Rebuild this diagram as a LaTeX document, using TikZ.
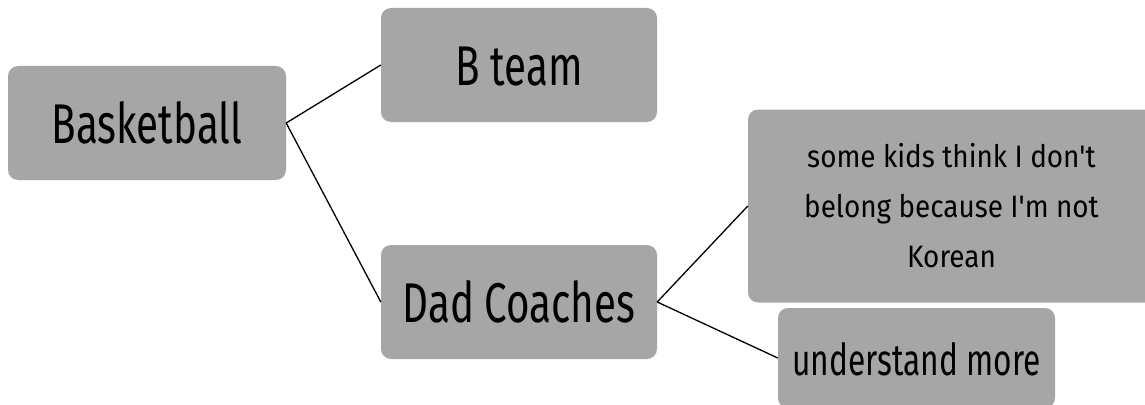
\documentclass[tikz,border=0pt]{standalone}
\usepackage{fontspec}
\newfontfamily\bigfont[FakeStretch=0.72]{Fira Sans}
\newfontfamily\smallfont[FakeStretch=0.9]{Fira Sans}
\definecolor{boxgrey}{HTML}{A6A6A6}
\begin{document}
\begin{tikzpicture}[x=1pt,y=-1pt,
  topic/.style={fill=boxgrey, draw=none, rounded corners=10pt, inner sep=0pt,
    text=black, font=\bigfont\fontsize{56}{60}\selectfont,
    text height=40pt, text depth=0pt},
  note/.style={fill=boxgrey, draw=none, rounded corners=10pt, inner sep=0pt,
    text=black, align=center, font=\smallfont\fontsize{31}{50}\selectfont},
  link/.style={draw=black, line width=1.3pt}]
\clip (0,0) rectangle (1145,404);
\fill[white] (0,0) rectangle (1145,404);

% main topic and its two branches
\node[topic, minimum width=278pt, minimum height=114pt] (bb) at (147,123) {Basketball};
\node[topic, minimum width=276pt, minimum height=114pt] (bt) at (519,65) {B team};
\node[topic, minimum width=276pt, minimum height=114pt] (dc) at (519,302) {Dad Coaches};

% details under "Dad Coaches"
\node[note, minimum width=407pt, minimum height=193pt] (sk) at (951.5,206)
  {some kids think I don't\\belong because I'm not\\Korean};
\node[topic, minimum width=277pt, minimum height=100pt,
  font=\bigfont\fontsize{44}{48}\selectfont, text height=34pt] (um) at (916.5,358)
  {understand more};

\draw[link] (bb.east) -- (bt.west);
\draw[link] (bb.east) -- (dc.west);
\draw[link] (dc.east) -- (sk.west);
\draw[link] (dc.east) -- (um.west);
\end{tikzpicture}
\end{document}
